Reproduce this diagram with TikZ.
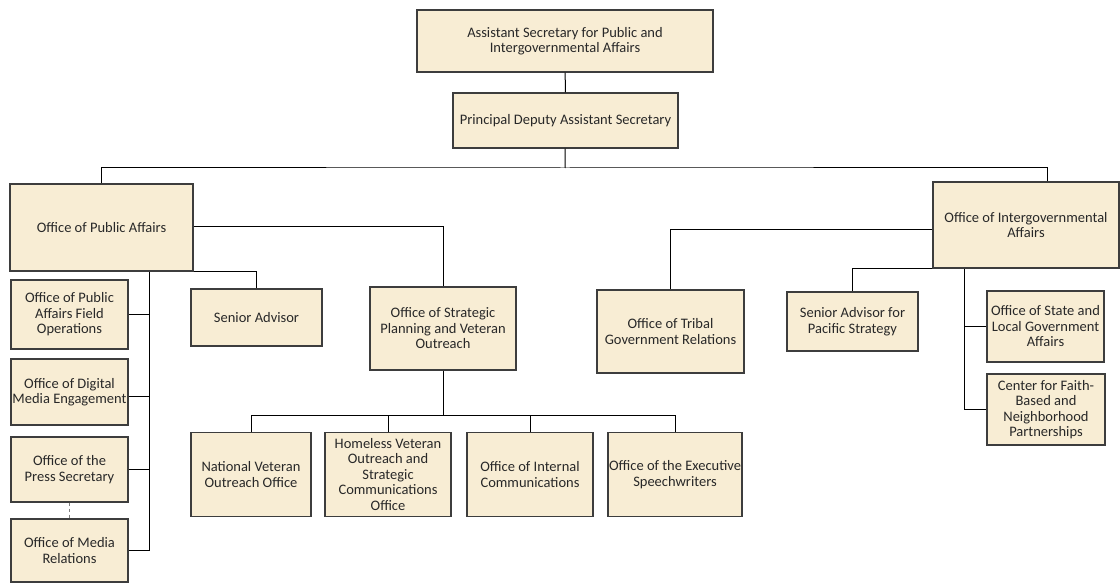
\documentclass[tikz,border=0pt]{standalone}
\usepackage{fontspec}
\setmainfont{Carlito}
\usepackage{tikz}
\usetikzlibrary{calc}
\definecolor{paper}{RGB}{248,237,212}
\definecolor{ink}{RGB}{40,40,40}

\begin{document}
\begin{tikzpicture}[x=1pt,y=-1pt,line width=1pt]
		\tikzstyle{box}=[rectangle,draw=ink!90,fill=paper,line width=1.1pt,
							inner sep=0pt,align=center,text=ink,
							font=\fontsize{14.5}{15.5}\selectfont]

		\useasboundingbox (0,0) rectangle (1120,583);

		% top
		\node[box,minimum width=296pt,minimum height=62pt] (AS) at (565,41)
			{Assistant Secretary for Public and\\Intergovernmental Affairs};
		\node[box,minimum width=225pt,minimum height=55pt] (PDAS) at (565.5,120.5)
			{Principal Deputy Assistant Secretary};

		% offices
		\node[box,minimum width=183pt,minimum height=87pt] (OPA) at (101.5,227.5)
			{Office of Public Affairs};
		\node[box,minimum width=186pt,minimum height=86pt] (OIA) at (1026,225)
			{Office of Intergovernmental\\Affairs};

		% public affairs column
		\foreach \name/\y/\h/\txt in {
				OPAFO/314.5/69/{Office of Public\\Affairs Field\\Operations},
				ODME/392/66/{Office of Digital\\Media Engagement},
				OPS/469.5/65/{Office of the\\Press Secretary},
				OMR/550.5/63/{Office of Media\\Relations}}
			\node[box,minimum width=117pt,minimum height=\h pt] (\name) at (69.5,\y) {\txt};

		\node[box,minimum width=131pt,minimum height=57pt] (SA) at (256.5,317.5)
			{Senior Advisor};
		\node[box,minimum width=146pt,minimum height=83pt] (OSPVO) at (443,328.5)
			{Office of Strategic\\Planning and Veteran\\Outreach};

		% intergovernmental side
		\node[box,minimum width=147pt,minimum height=83pt] (OTGR) at (670.5,331.5)
			{Office of Tribal\\Government Relations};
		\node[box,minimum width=131pt,minimum height=59pt] (SAPS) at (852.5,321.5)
			{Senior Advisor for\\Pacific Strategy};
		\node[box,minimum width=117pt,minimum height=71pt] (OSLGA) at (1045.5,326.5)
			{Office of State and\\Local Government\\Affairs};
		\node[box,minimum width=118pt,minimum height=71pt] (CFBNP) at (1046,409.5)
			{Center for Faith-\\Based and\\Neighborhood\\Partnerships};

		% strategic planning row
		\foreach \name/\x/\w/\txt in {
				NVOO/251/120/{National Veteran\\Outreach Office},
				HVOSCO/388/126/{Homeless Veteran\\Outreach and\\Strategic\\Communications\\Office},
				OIC/530/126/{Office of Internal\\Communications},
				OES/675/134/{Office of the Executive\\Speechwriters}}
			\node[box,minimum width=\w pt,minimum height=84pt] (\name) at (\x,474.5) {\txt};

		% edges
		\coordinate (bus) at (565,168);
		\coordinate (bus2) at (443,415);
		\coordinate (opaspine) at ([xshift=47.5pt]OPA.south);
		\coordinate (oiaspine) at ([xshift=32pt]OIA.south west);

		\draw (AS) -- (PDAS);
		\draw (PDAS) -- (bus);
		\draw (OPA.north) |- (bus) -| ([xshift=21pt]OIA.north);

		\draw ([yshift=1pt]OPA.east) -| (OSPVO.north);
		\draw (OPA.south east) -| (SA.north);
		\draw (opaspine) |- (OMR.east);
		\foreach \name/\dy in {OPAFO/0, ODME/-4, OPS/0}
			\draw ([yshift=\dy pt]\name.east) -- ([yshift=\dy pt]\name.east -| opaspine);
		\draw [dashed,line width=0.6pt,ink!60] (OPS.south) -- (OPS.south |- OMR.north);

		\draw (OSPVO) -- (bus2);
		\foreach \name in {NVOO, HVOSCO, OIC, OES}
			\draw (bus2) -| (\name.north);

		\draw ([yshift=-4pt]OIA.west) -| (OTGR.north);
		\draw (OIA.south west) -| (SAPS.north);
		\draw (oiaspine) |- (CFBNP.west);
		\draw (OSLGA.west) -- (OSLGA.west -| oiaspine);
	\end{tikzpicture}
\end{document}
